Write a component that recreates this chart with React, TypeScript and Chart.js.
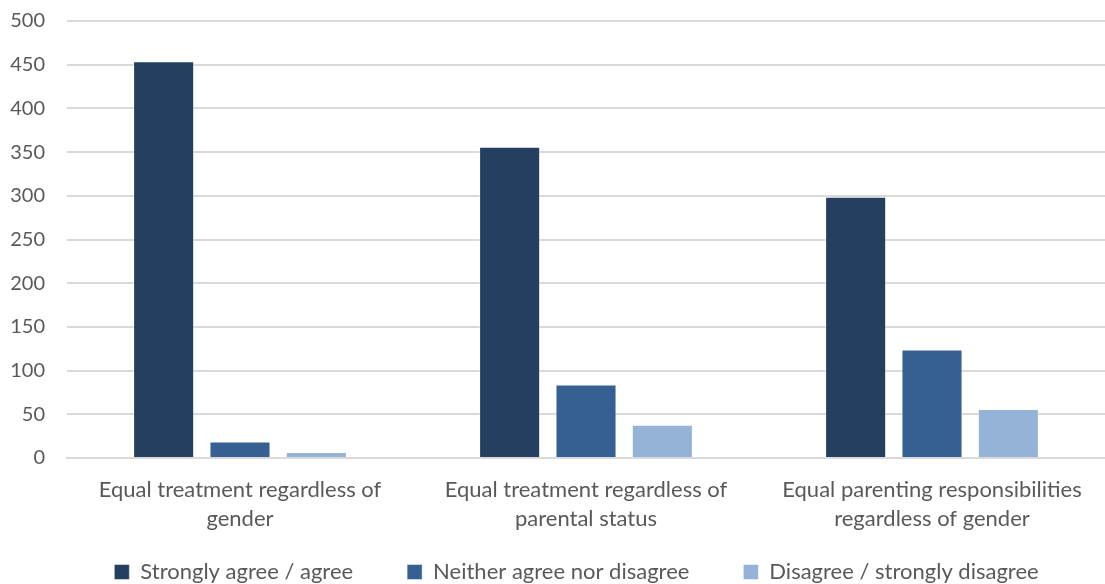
import React, { useEffect, useRef } from "react";
import { Chart, registerables } from "chart.js";

Chart.register(...registerables);

const categories: string[][] = [
  ["Equal treatment regardless of", "gender"],
  ["Equal treatment regardless of", "parental status"],
  ["Equal parenting responsibilities", "regardless of gender"],
];
const seriesNames = [
  "Strongly agree / agree",
  "Neither agree nor disagree",
  "Disagree / strongly disagree",
];
const stronglyAgree = [454, 356, 299];
const neither = [19, 84, 124];
const disagree = [7, 38, 56];
const colors = ["#243F60", "#376092", "#95B3D7"];
const yTicksMax = 500;
const yTickStep = 50;

const FONT = "Lato, 'Open Sans', sans-serif";

const legendPlacer = {
  id: "legendPlacer",
  afterLayout(chart: any) {
    const lg = chart.legend;
    if (!lg) return;
    // legend labels use a wide padding for item spacing; lift its box so the row
    // sits just under the axis labels, and nudge it right like the original
    const dy = -31;
    const dx = 16;
    lg.top += dy;
    lg.bottom = chart.height;
    lg.height = lg.bottom - lg.top;
    lg.left += dx;
    lg.right += dx;
  },
};

export default function App() {
  const ref = useRef<HTMLCanvasElement | null>(null);
  useEffect(() => {
    document.body.style.margin = "0";
    const ctx = ref.current!;
    const values = [stronglyAgree, neither, disagree];
    const chart = new Chart(ctx, {
      type: "bar",
      data: {
        labels: categories,
        datasets: values.map((v, i) => ({
          label: seriesNames[i],
          data: v,
          backgroundColor: colors[i],
          borderColor: "rgba(255,255,255,0.45)",
          borderWidth: 1,
          categoryPercentage: 0.662,
          barPercentage: 0.8,
        })),
      },
      options: {
        animation: false,
        responsive: false,
        maintainAspectRatio: false,
        layout: { padding: { top: 21, right: -16, left: 0, bottom: 0 } },
        plugins: {
          tooltip: { enabled: false },
          legend: {
            position: "bottom",
            maxHeight: 46,
            labels: {
              boxWidth: 15,
              boxHeight: 15,
              padding: 54,
              color: "#595959",
              font: { family: FONT, size: 22 },
            },
          },
        },
        scales: {
          x: {
            grid: { display: false },
            border: { display: true, color: "#d9d9d9", width: 2 },
            ticks: {
              color: "#595959",
              padding: 9,
              font: { family: FONT, size: 22, lineHeight: 29 / 22 },
              maxRotation: 0,
              autoSkip: false,
            },
            afterFit: (s: any) => {
              s.height = 80;
            },
          },
          y: {
            min: 0,
            max: yTicksMax,
            grid: {
              color: "#d9d9d9",
              lineWidth: 2,
              drawTicks: true,
              tickLength: 22,
              tickColor: "rgba(0,0,0,0)",
            },
            border: { display: false },
            ticks: {
              stepSize: yTickStep,
              color: "#595959",
              padding: 0,
              font: { family: FONT, size: 20 },
            },
            afterFit: (s: any) => {
              s.width = 67;
            },
          },
        },
      },
      plugins: [legendPlacer],
    });
    return () => chart.destroy();
  }, []);
  return (
    <div style={{ width: 1105, height: 584, overflow: "hidden" }}>
      <canvas ref={ref} width={1105} height={584} />
    </div>
  );
}
